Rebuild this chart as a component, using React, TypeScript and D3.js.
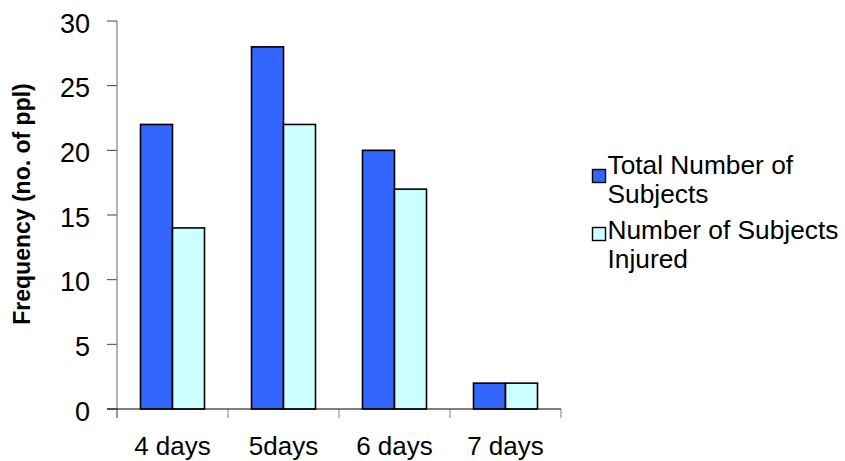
import React from "react";
import * as d3 from "d3";

const categories = ["4 days", "5days", "6 days", "7 days"];
const seriesNames = ["Total Number of Subjects", "Number of Subjects Injured"];
const totalSubjects = [22, 28, 20, 2];
const injuredSubjects = [14, 22, 17, 2];
const yTicks = [0, 5, 10, 15, 20, 25, 30];
const legendLines = [["Total Number of", "Subjects"], ["Number of Subjects", "Injured"]];
const colors = ["#3366FF", "#CCFFFF"];

const W = 845;
const H = 461;
const left = 117;
const right = 561;
const top = 21;
const bottom = 409;

export default function App() {
  const x0 = d3.scaleBand<string>().domain(categories).range([left, right]).padding(0);
  const step = x0.bandwidth();
  const groupW = 64;
  const x1 = d3
    .scaleBand<number>()
    .domain([0, 1])
    .range([(step - groupW) / 2, (step + groupW) / 2])
    .padding(0);
  const y = d3.scaleLinear().domain([0, 30]).range([bottom, top]);
  const series = [totalSubjects, injuredSubjects];
  const font = "'Liberation Sans', Arial, sans-serif";

  return (
    <svg width={W} height={H} style={{ position: "absolute", left: 0, top: 0, background: "#fff" }} fontFamily={font}>
      <rect x={0} y={0} width={W} height={H} fill="#fff" />
      {/* y ticks */}
      {yTicks.map((t) => (
        <g key={t}>
          <line x1={left - 10} x2={left} y1={y(t)} y2={y(t)} stroke="#404040" strokeWidth={1} />
          <text x={90} y={y(t) + 11.5} textAnchor="end" fontSize={27} fill="#000">
            {t}
          </text>
        </g>
      ))}
      {/* x ticks */}
      {categories.map((c) => (
        <line key={c} x1={x0(c)!} x2={x0(c)!} y1={bottom} y2={bottom + 9} stroke="#808080" strokeWidth={1} />
      ))}
      <line x1={right} x2={right} y1={bottom} y2={bottom + 9} stroke="#808080" strokeWidth={1} />
      {/* bars */}
      {categories.map((c, i) =>
        series.map((s, si) => (
          <rect
            key={c + si}
            x={x0(c)! + x1(si)!}
            y={y(s[i])}
            width={x1.bandwidth()}
            height={bottom - y(s[i])}
            fill={colors[si]}
            stroke="#000"
            strokeWidth={1.6}
          />
        ))
      )}
      {/* axes */}
      <line x1={left} x2={left} y1={top} y2={bottom + 9} stroke="#808080" strokeWidth={1.2} />
      <line x1={left - 10} x2={right} y1={bottom} y2={bottom} stroke="#000" strokeWidth={1.2} />
      {/* x labels */}
      {categories.map((c) => (
        <text key={c} x={x0(c)! + step / 2} y={455} textAnchor="middle" fontSize={26} fill="#000">
          {c}
        </text>
      ))}
      {/* y title */}
      <text
        transform={`translate(30, 204) rotate(-90)`}
        textAnchor="middle"
        fontSize={23}
        fontWeight="bold"
        fill="#000"
      >
        Frequency (no. of ppl)
      </text>
      {/* legend */}
      {seriesNames.map((n, i) => (
        <g key={n}>
          <rect x={592.5} y={169.5 + i * 58} width={13} height={13} fill={colors[i]} stroke="#000" strokeWidth={1.4} />
          {legendLines[i].map((l, li) => (
            <text key={l} x={607.5} y={174.3 + i * 64.7 + li * 29} fontSize={26.3} fill="#000">
              {l}
            </text>
          ))}
        </g>
      ))}
    </svg>
  );
}
